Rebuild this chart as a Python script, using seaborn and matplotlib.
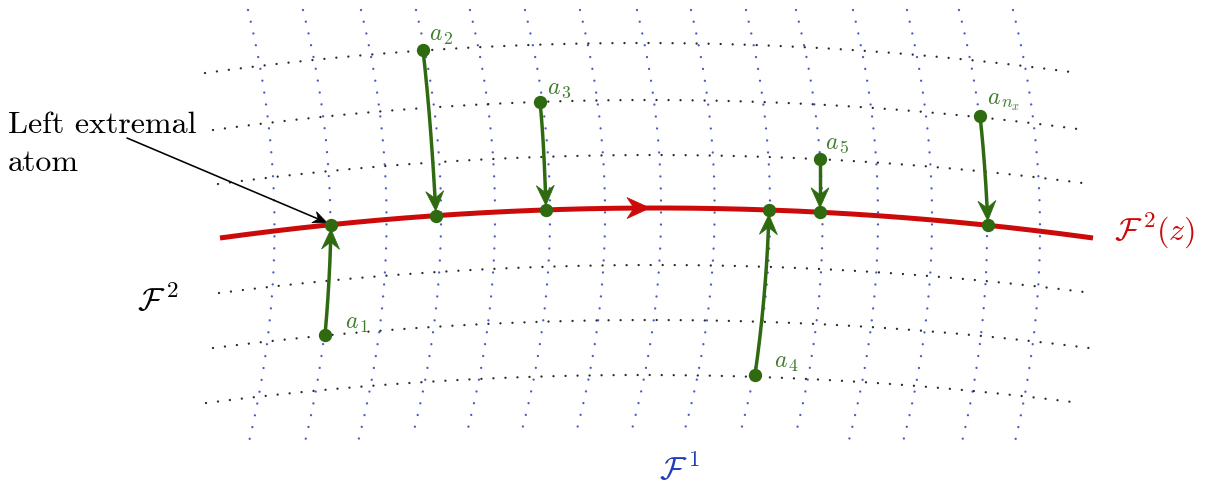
import numpy as np
import matplotlib
matplotlib.use("Agg")
import matplotlib.pyplot as plt
import seaborn as sns
import pandas as pd
from matplotlib.patches import Polygon

# ---------------- data (pixel-space geometry) ----------------
ROW_Y_END = [73, 130, 184, 238, 293, 348, 403]
ROW_X_LEFT = [205, 213, 218, 220, 219, 213, 206]
ROW_X_RIGHT = [1078, 1085, 1090, 1093, 1092, 1089, 1080]
ROW_SAG = [30, 30, 29, 30, 28, 28, 28]
RED_ROW = 3

COL_X_TOP = [248, 303, 361, 416, 470, 525, 580, 637, 691, 746, 796, 853, 907, 959, 1013]
COL_X_BOT = [247, 304, 358, 412, 466, 521, 576, 631, 684, 740, 795, 849, 903, 961, 1013]
COL_Y_TOP = [10] * 15
COL_Y_BOT = [450, 446, 442, 438, 436, 434, 433, 433, 433, 434, 437, 440, 442, 446, 450]
COL_BULGE = 27

ATOM_SUBS = ["1", "2", "3", "4", "5", "n_x"]
ATOM_X = [325, 423, 540, 755, 820, 980]
ATOM_Y = [335, 50, 102, 375, 159, 116]
PROJ_X = [331, 436, 546, 769, 820, 988]
CTRL_X = [330, 431, 544, 767, 820, 985]
CTRL_Y = [280, 120, 140, 290, 185, 160]
LABEL_X = [345, 429, 547, 774, 825, 987]
LABEL_Y = [328, 40, 94, 367, 149, 104]

RED_ARROW_TIP_X = 650
EXTREMAL_LINES = ["Left extremal", "atom"]
EXTREMAL_BASELINES = [133, 171]
EXTREMAL_X = 8
EXTREMAL_ARROW_START = (127, 138)

# leaf labels: (x, baseline, superscript, tail, colour)
LEAF_LABELS = [(137, 310, "2", "", "black"),
               (659, 479, "1", "", "#1f3cbf"),
               (1114, 240, "2", "(z)", "#cc0a0a")]

GREEN = "#2f6a10"
GREEN_LABEL = "#3e7c2e"
RED = "#cc0a0a"
BLUE = "#3348c0"

# ---------------- setup ----------------
sns.set_theme(style="white")
plt.rcParams["mathtext.fontset"] = "cm"
plt.rcParams["font.family"] = ["DejaVu Serif"]

fig = plt.figure(figsize=(12.08, 4.86), dpi=100)
ax = fig.add_axes([0, 0, 1, 1])
ax.set_xlim(0, 1208)
ax.set_ylim(486, 0)
ax.axis("off")
renderer = fig.canvas.get_renderer()


def right_edge(txt):
    bb = txt.get_window_extent(renderer)
    return ax.transData.inverted().transform((bb.x1, bb.y0))[0]


def compose(x, y, base, script, size, color, shift, tail="", z=7, gap=1.0, ratio=0.72):
    t = ax.text(x, y, base, fontsize=size, color=color, ha="left", va="baseline", zorder=z)
    x1 = right_edge(t) + gap
    s = ax.text(x1, y + shift, script, fontsize=size * ratio, color=color, ha="left",
                va="baseline", zorder=z)
    if tail:
        x2 = right_edge(s) + 1.0
        ax.text(x2, y, tail, fontsize=size, color=color, ha="left", va="baseline", zorder=z)


def row_y(i, x):
    xl, xr = ROW_X_LEFT[i], ROW_X_RIGHT[i]
    xc, hw = (xl + xr) / 2, (xr - xl) / 2
    return ROW_Y_END[i] - ROW_SAG[i] * (1 - ((np.asarray(x) - xc) / hw) ** 2)


# rows (F^2 leaves), black dotted
recs = []
for i in range(len(ROW_Y_END)):
    if i == RED_ROW:
        continue
    xs = np.linspace(ROW_X_LEFT[i], ROW_X_RIGHT[i], 300)
    for x, y in zip(xs, row_y(i, xs)):
        recs.append((i, x, y))
rows_df = pd.DataFrame(recs, columns=["curve", "x", "y"])

# columns (F^1 leaves), blue dotted
recs = []
for k in range(len(COL_X_TOP)):
    t = np.linspace(0, 1, 300)
    xs = COL_X_TOP[k] + (COL_X_BOT[k] - COL_X_TOP[k]) * t + 4 * COL_BULGE * t * (1 - t)
    ys = COL_Y_TOP[k] + (COL_Y_BOT[k] - COL_Y_TOP[k]) * t
    for x, y in zip(xs, ys):
        recs.append((k, x, y))
cols_df = pd.DataFrame(recs, columns=["curve", "x", "y"])

dot_lw = 1.7
dot_style = (0, (0.01, 8.64 / dot_lw))
sns.lineplot(data=cols_df, x="x", y="y", units="curve", estimator=None, sort=False,
             color=BLUE, lw=dot_lw, linestyle=dot_style, dash_capstyle="round",
             ax=ax, legend=False, zorder=1, alpha=0.9)
sns.lineplot(data=rows_df, x="x", y="y", units="curve", estimator=None, sort=False,
             color="#2a2a2a", lw=dot_lw, linestyle=dot_style, dash_capstyle="round",
             ax=ax, legend=False, zorder=1)

# red line F^2(z)
rx = np.linspace(ROW_X_LEFT[RED_ROW], ROW_X_RIGHT[RED_ROW], 400)
sns.lineplot(x=rx, y=row_y(RED_ROW, rx), sort=False, estimator=None, color=RED,
             lw=3.6, ax=ax, zorder=3)
ax.lines[-1].set_solid_capstyle("butt")


def stealth(tip, d, L, W, notch, color, z):
    d = np.asarray(d, float)
    d = d / np.hypot(*d)
    n = np.array([-d[1], d[0]])
    tip = np.asarray(tip, float)
    pts = [tip, tip - L * d + W * n, tip - (L - notch) * d, tip - L * d - W * n]
    ax.add_patch(Polygon(pts, closed=True, facecolor=color, edgecolor=color,
                         lw=0.5, zorder=z))


# red arrowhead
tx = RED_ARROW_TIP_X
ty = float(row_y(RED_ROW, tx))
slope = float(row_y(RED_ROW, tx + 1) - row_y(RED_ROW, tx - 1)) / 2
stealth((tx, ty), (1, slope), 23, 10.5, 7, RED, 4)

# green atom arrows
proj_y = [float(row_y(RED_ROW, x)) for x in PROJ_X]
for i in range(len(ATOM_X)):
    P0 = np.array([ATOM_X[i], ATOM_Y[i]], float)
    P1 = np.array([CTRL_X[i], CTRL_Y[i]], float)
    P2 = np.array([PROJ_X[i], proj_y[i]], float)
    t = np.linspace(0, 1, 200)[:, None]
    B = (1 - t) ** 2 * P0 + 2 * (1 - t) * t * P1 + t ** 2 * P2
    d_end = P2 - P1
    d_end = d_end / np.hypot(*d_end)
    tip = P2 - 4.5 * d_end
    back = tip - 14 * d_end
    dist = np.hypot(*(B - back).T)
    cut = int(np.argmin(dist))
    sns.lineplot(x=B[:cut + 1, 0], y=B[:cut + 1, 1], sort=False, estimator=None,
                 color=GREEN, lw=2.5, ax=ax, zorder=5)
    stealth(tip, d_end, 20, 9, 7, GREEN, 5)

sns.scatterplot(x=ATOM_X + PROJ_X, y=ATOM_Y + proj_y, s=92, color=GREEN,
                linewidth=0, ax=ax, zorder=6)

for sub, lx, ly in zip(ATOM_SUBS, LABEL_X, LABEL_Y):
    compose(lx, ly, r"$a$", "$" + sub + "$", 17, GREEN_LABEL, 4, gap=0.3, ratio=0.75)

# "Left extremal atom" annotation
for line, base in zip(EXTREMAL_LINES, EXTREMAL_BASELINES):
    ax.text(EXTREMAL_X, base, line, fontsize=23, family="cmr10", color="black",
            ha="left", va="baseline")
sx, sy = EXTREMAL_ARROW_START
ex, ey = PROJ_X[0] - 4, proj_y[0] - 2
dv = np.array([ex - sx, ey - sy], float)
dv /= np.hypot(*dv)
ax.plot([sx, ex - 10 * dv[0]], [sy, ey - 10 * dv[1]], color="black", lw=1.15, zorder=4)
stealth((ex, ey), dv, 14, 6, 4.5, "black", 4)

# leaf labels
for lx, ly, sup, tail, col in LEAF_LABELS:
    compose(lx, ly, r"$\mathcal{F}$", "$" + sup + "$", 23, col, -13,
            tail=("$" + tail + "$") if tail else "", gap=0.3)

fig.savefig("out.png", dpi=100, facecolor="white")
